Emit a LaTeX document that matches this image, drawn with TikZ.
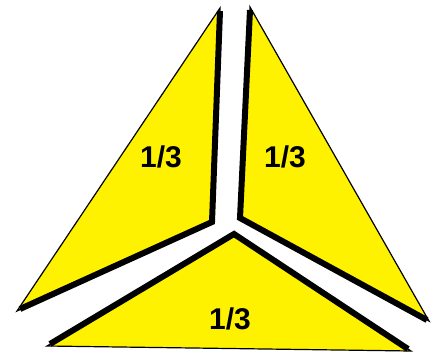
\documentclass[tikz,border=0pt]{standalone}
\usepackage{fontspec}
\setmainfont{Liberation Sans}
\begin{document}
\begin{tikzpicture}[x=1pt, y=-1pt,
  piece/.style={draw=black, fill=yellow, line width=1.2pt, line join=miter},
  cut/.style={draw=black, line width=6pt, line cap=butt, line join=miter},
  frac/.style={font=\fontsize{30}{30}\selectfont\bfseries}
]
\useasboundingbox (0,0) rectangle (432,354);

% Left third
\draw[piece] (220,8) -- (212,222) -- (17,311) -- cycle;
\draw[cut] (220,11) -- (212,222) -- (20,309);

% Right third
\draw[piece] (250,7) -- (240,218) -- (429,321) -- cycle;
\draw[cut] (250,10) -- (240,218) -- (427,320);

% Bottom third
\draw[piece] (234,234) -- (47,346) -- (411,351) -- cycle;
\draw[cut] (50,344) -- (234,234) -- (408,349);

% Labels
\node[frac] (left) at (161,157) {1/3};
\node[frac] (right) at (285,157) {1/3};
\node[frac] (bottom) at (230,319) {1/3};

\end{tikzpicture}
\end{document}
